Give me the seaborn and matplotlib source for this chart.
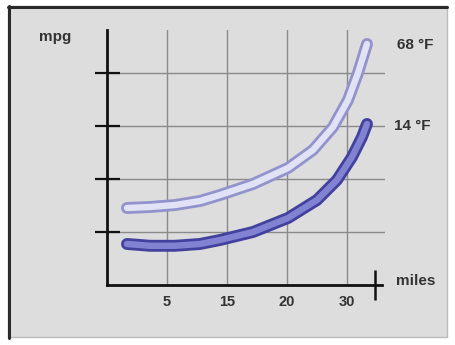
import numpy as np
import pandas as pd
import matplotlib
matplotlib.use("Agg")
import matplotlib.pyplot as plt
import matplotlib.patheffects as pe
from matplotlib.patches import Rectangle
from matplotlib.lines import Line2D
import seaborn as sns

# ---- data (positions on the illustrative category axis, mpg in grid units) ----
x_labels = ["5", "15", "20", "30"]
x_68 = [0.333, 0.717, 1.133, 1.55, 1.883, 2.433, 3.017, 3.433, 3.767, 4.017, 4.183, 4.333]
y_68 = [1.453, 1.472, 1.509, 1.585, 1.698, 1.906, 2.208, 2.547, 2.981, 3.491, 4.0, 4.547]
x_14 = [0.333, 0.717, 1.133, 1.55, 1.883, 2.433, 3.017, 3.5, 3.833, 4.083, 4.25, 4.333]
y_14 = [0.774, 0.740, 0.740, 0.774, 0.849, 1.0, 1.264, 1.604, 1.981, 2.415, 2.792, 3.038]
series_labels = ["68 °F", "14 °F"]

sns.set_theme(style="white")
plt.rcParams["font.family"] = ["Liberation Sans", "DejaVu Sans"]

W, H = 456, 345
fig = plt.figure(figsize=(W / 100, H / 100), dpi=100, facecolor="white")

# panel background and frame
fig.patches.append(Rectangle((8 / W, (H - 337) / H), (447 - 8) / W, (337 - 6) / H,
                             transform=fig.transFigure, facecolor="#dddddd",
                             edgecolor="#bbbbbb", linewidth=1, zorder=-10))
fig.lines.append(Line2D([9 / W, 9 / W], [(H - 338) / H, (H - 6) / H],
                        transform=fig.transFigure, color="#2a2a2a",
                        linewidth=2.2, zorder=-9))
fig.lines.append(Line2D([8 / W, 447 / W], [(H - 7) / H, (H - 7) / H],
                        transform=fig.transFigure, color="#2a2a2a",
                        linewidth=2.2, zorder=-9))

# axes: origin at pixel (107, 285), 60 px per x-unit, 53 px per y-unit
x0, y0 = 107, 285
ax = fig.add_axes([x0 / W, (H - y0) / H, (385 - x0) / W, (y0 - 30) / H])
ax.set_zorder(2)
ax.set_facecolor("none")
ax.set_xlim(0, (385 - x0) / 60)
ax.set_ylim(0, (y0 - 30) / 53)

for s in ["top", "right"]:
    ax.spines[s].set_visible(False)
for s in ["left", "bottom"]:
    ax.spines[s].set_color("#111111")
    ax.spines[s].set_linewidth(2)
ax.spines["bottom"].set_bounds(0, (382 - x0) / 60)

# grid
ax.set_xticks([1, 2, 3, 4])
ax.set_xticklabels(x_labels, fontweight="bold")
ax.set_yticks([1, 2, 3, 4])
ax.set_yticklabels([])
ax.grid(True, which="major", color="#8a8a8a", linewidth=1.0)
ax.set_axisbelow(True)
ax.tick_params(axis="x", which="major", length=0, pad=7, labelsize=10.5,
               labelcolor="#333333")
ax.tick_params(axis="y", which="major", left=True, direction="inout",
               length=18, width=1.6, color="#111111")
ax.set_xticks([(375 - x0) / 60], minor=True)
ax.tick_params(axis="x", which="minor", bottom=True, direction="inout",
               length=22, width=1.8, color="#111111")

df68 = pd.DataFrame({"x": x_68, "y": y_68})
df14 = pd.DataFrame({"x": x_14, "y": y_14})
styles = [(df68, "#e2e2f6", "#9292cc"), (df14, "#8282d2", "#42429e")]
for df, inner, outer in styles:
    sns.lineplot(data=df, x="x", y="y", ax=ax, sort=False, estimator=None,
                 color=inner, linewidth=4.6, legend=False)
    ln = ax.lines[-1]
    ln.set_solid_capstyle("round")
    ln.set_solid_joinstyle("round")
    ln.set_path_effects([pe.Stroke(linewidth=8.6, foreground=outer,
                                   capstyle="round", joinstyle="round"),
                         pe.Normal()])
    ln.set_zorder(5)

ax.set_xlabel("")
ax.set_ylabel("")

# text labels
tkw = dict(fontsize=11, fontweight="bold", color="#333333", va="center")
fig.text(39 / W, (H - 37) / H, "mpg", ha="left", **tkw)
fig.text(396 / W, (H - 281) / H, "miles", ha="left", **tkw)
fig.text(397 / W, (H - 45) / H, series_labels[0], ha="left", **tkw)
fig.text(394 / W, (H - 126) / H, series_labels[1], ha="left", **tkw)

fig.savefig("out.png", dpi=100, facecolor=fig.get_facecolor())
